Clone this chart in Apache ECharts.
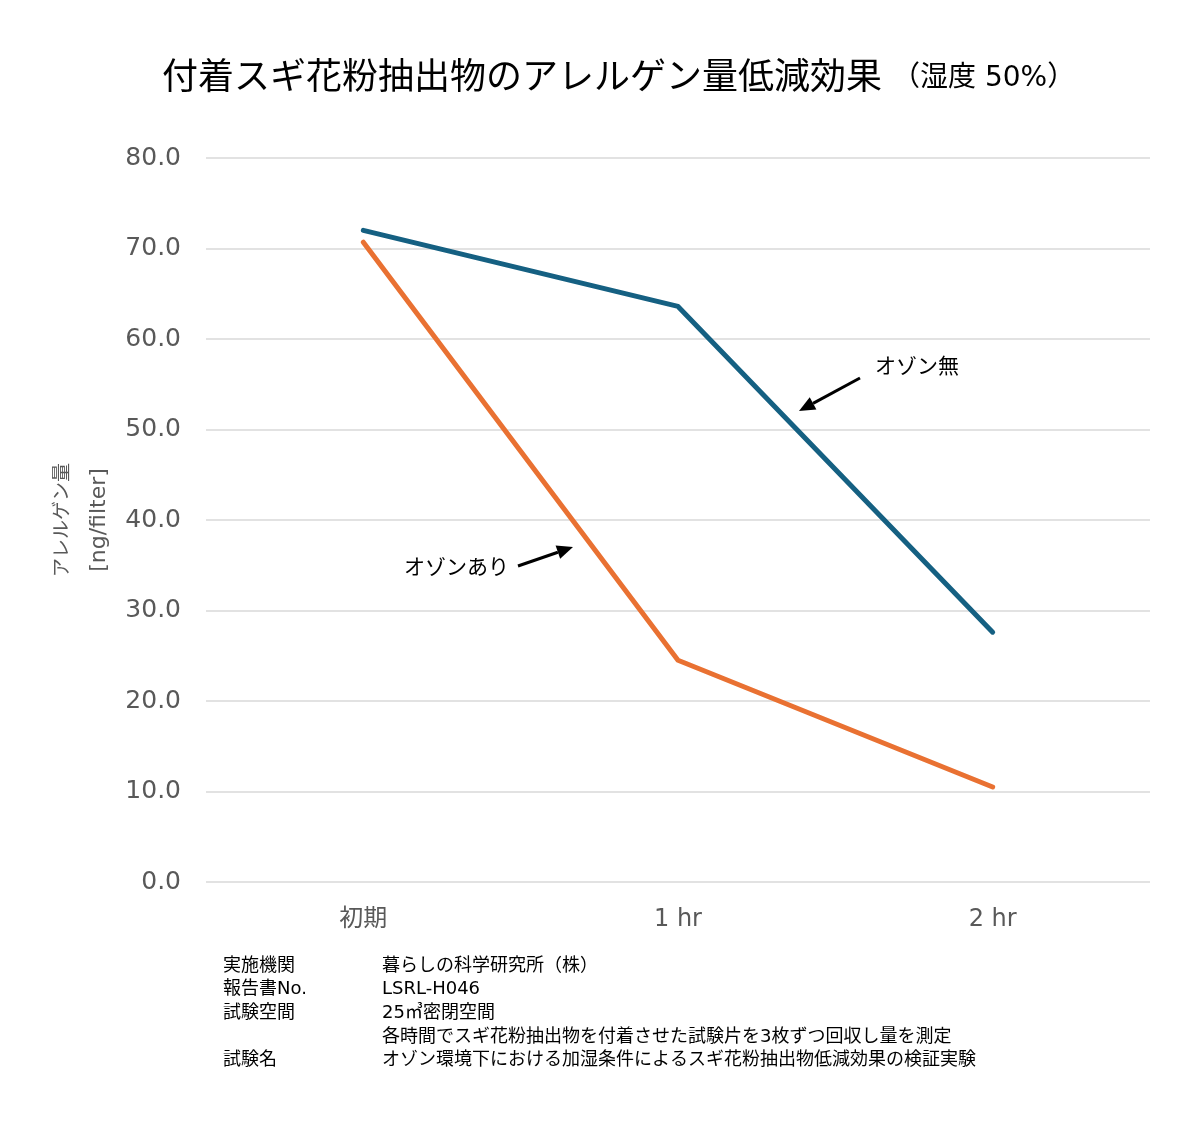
<!DOCTYPE html>
<html><head><meta charset="utf-8">
<script src="https://cdn.jsdelivr.net/npm/echarts@6/dist/echarts.min.js"></script>
<style>html,body{margin:0;padding:0;background:#fff}#c{width:1200px;height:1135px}</style>
</head><body><div id="c"></div>
<script>
const categories = ['初期', '1 hr', '2 hr'];
const ozoneNone = [72.0, 63.6, 27.6];
const ozoneOn = [70.7, 24.5, 10.5];
const yTicks = [0, 10, 20, 30, 40, 50, 60, 70, 80];
const footerLabels = ['実施機関', '報告書No.', '試験空間', '', '試験名'];
const footerValues = ['暮らしの科学研究所（株）', 'LSRL-H046', '25㎥密閉空間', '各時間でスギ花粉抽出物を付着させた試験片を3枚ずつ回収し量を測定', 'オゾン環境下における加湿条件によるスギ花粉抽出物低減効果の検証実験'];

const FONT = '"DejaVu Sans", "Noto Sans CJK JP", sans-serif';
const CJK = '"Noto Sans CJK JP", "DejaVu Sans", sans-serif';
const chart = echarts.init(document.getElementById('c'));

const graphics = [];
footerLabels.forEach((t, i) => {
  const y = 964 + i * 23.7;
  if (t) graphics.push({type: 'text', left: 223, top: y - 7, style: {text: t, font: '18px ' + FONT, fill: '#000'}});
  graphics.push({type: 'text', left: 382, top: y - 7, style: {text: footerValues[i], font: '18px ' + FONT, fill: '#000'}});
});
// annotations
graphics.push({type: 'text', left: 875, top: 355, style: {text: 'オゾン無', font: '21px ' + CJK, fill: '#000'}});
graphics.push({type: 'text', left: 404, top: 556, style: {text: 'オゾンあり', font: '21px ' + CJK, fill: '#000'}});
function arrow(x1, y1, x2, y2) {
  const ang = Math.atan2(y2 - y1, x2 - x1);
  const L = 16, W = 7;
  const bx = x2 - L * Math.cos(ang), by = y2 - L * Math.sin(ang);
  graphics.push({type: 'line', shape: {x1, y1, x2: bx, y2: by}, style: {stroke: '#000', lineWidth: 3}});
  graphics.push({type: 'polygon', shape: {points: [[x2, y2], [bx + W * Math.sin(ang), by - W * Math.cos(ang)], [bx - W * Math.sin(ang), by + W * Math.cos(ang)]]}, style: {fill: '#000'}});
}
arrow(860, 378, 799, 411);
arrow(518, 566, 573, 547);

chart.setOption({
  animation: false,
  backgroundColor: '#fff',
  title: {
    text: '{a|付着スギ花粉抽出物のアレルゲン量低減効果}{b|（湿度 50%）}',
    left: 157, top: 52,
    textStyle: {fontWeight: 'normal', rich: {
      a: {fontSize: 36, fontFamily: CJK, fontWeight: 'normal', color: '#000'},
      b: {fontSize: 28, fontFamily: FONT, fontWeight: 'normal', color: '#000', padding: [7, 0, 0, 10]}
    }}
  },
  grid: {left: 206, right: 50, top: 158, bottom: 253},
  xAxis: {
    type: 'category', data: categories, boundaryGap: true,
    axisLine: {show: false}, axisTick: {show: false},
    axisLabel: {fontSize: 24, fontFamily: FONT, color: '#595959', margin: 26}
  },
  yAxis: {
    type: 'value', min: 0, max: 80, interval: 10,
    name: '{a|アレルゲン量}\n{b|[ng/filter]}', nameLocation: 'middle', nameRotate: 90, nameGap: 88,
    nameTextStyle: {color: '#595959', rich: {
      a: {fontSize: 19, fontFamily: CJK, color: '#595959', lineHeight: 38},
      b: {fontSize: 22, fontFamily: FONT, color: '#595959', lineHeight: 38}
    }},
    axisLabel: {fontSize: 25, fontFamily: FONT, color: '#595959', margin: 25, formatter: v => v.toFixed(1)},
    splitLine: {lineStyle: {color: '#d9d9d9', width: 1.5}},
    axisLine: {show: false}, axisTick: {show: false}
  },
  series: [
    {name: 'オゾン無', type: 'line', data: ozoneNone, showSymbol: false, symbol: 'none',
     lineStyle: {color: '#156082', width: 5, cap: 'round', join: 'round'}},
    {name: 'オゾンあり', type: 'line', data: ozoneOn, showSymbol: false, symbol: 'none',
     lineStyle: {color: '#E97132', width: 5, cap: 'round', join: 'round'}}
  ],
  graphic: graphics
});
</script></body></html>
